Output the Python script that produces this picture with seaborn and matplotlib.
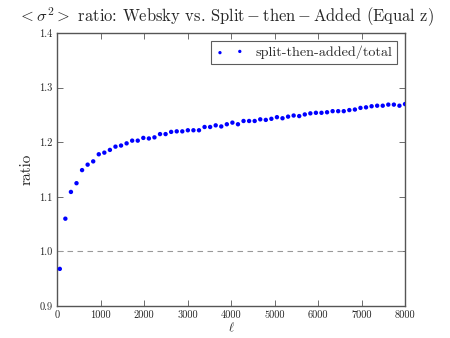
import matplotlib
matplotlib.use("Agg")
import matplotlib.pyplot as plt
import seaborn as sns
import pandas as pd

ell = [64, 192, 320, 448, 576, 704, 832, 960, 1088, 1216, 1344, 1472, 1600,
       1728, 1856, 1984, 2112, 2240, 2368, 2496, 2624, 2752, 2880, 3008, 3136,
       3264, 3392, 3520, 3648, 3776, 3904, 4032, 4160, 4288, 4416, 4544, 4672,
       4800, 4928, 5056, 5184, 5312, 5440, 5568, 5696, 5824, 5952, 6080, 6208,
       6336, 6464, 6592, 6720, 6848, 6976, 7104, 7232, 7360, 7488, 7616, 7744,
       7872, 8000]
ratio = [0.968, 1.060, 1.109, 1.125, 1.149, 1.159, 1.165, 1.178, 1.181, 1.186,
         1.192, 1.194, 1.198, 1.203, 1.203, 1.208, 1.207, 1.209, 1.215, 1.215,
         1.219, 1.220, 1.220, 1.222, 1.222, 1.222, 1.228, 1.228, 1.231, 1.229,
         1.233, 1.236, 1.233, 1.239, 1.239, 1.239, 1.242, 1.241, 1.243, 1.246,
         1.244, 1.247, 1.249, 1.248, 1.251, 1.253, 1.254, 1.254, 1.255, 1.257,
         1.257, 1.257, 1.259, 1.260, 1.263, 1.264, 1.266, 1.267, 1.267, 1.269,
         1.269, 1.267, 1.270]
xticks = [0, 1000, 2000, 3000, 4000, 5000, 6000, 7000, 8000]
yticks = [0.9, 1.0, 1.1, 1.2, 1.3, 1.4]
series_label = "split-then-added/total"

sns.set_style("ticks")
plt.rcParams["font.family"] = ["cmr10", "DejaVu Serif"]
plt.rcParams["mathtext.fontset"] = "cm"
plt.rcParams["axes.formatter.use_mathtext"] = True

df = pd.DataFrame({"ell": ell, "ratio": ratio})

fig = plt.figure(figsize=(4.5, 3.38), dpi=100)
ax = fig.add_axes([0.1267, 0.0947, 0.9 - 0.1267, 0.902 - 0.0947])

ax.axhline(1.0, ls=(0, (5, 4)), color="#999999", lw=0.8, zorder=1)
sns.scatterplot(data=df, x="ell", y="ratio", ax=ax, color="blue",
                edgecolor="none", s=10, label=series_label, zorder=3,
                clip_on=True)

ax.set_xlim(0, 8000)
ax.set_ylim(0.9, 1.4)
ax.set_xticks(xticks)
ax.set_yticks(yticks)
ax.set_xticklabels([str(t) for t in xticks])
ax.set_yticklabels([f"{t:.1f}" for t in yticks])
ax.tick_params(direction="in", top=True, right=True, labelsize=7.5,
               length=4, width=0.6, color="#555555", pad=3)
for sp in ax.spines.values():
    sp.set_linewidth(1.0)
    sp.set_color("#555555")

ax.set_xlabel(r"$\ell$", fontsize=9, labelpad=1)
ax.set_ylabel("ratio", fontsize=11, labelpad=4)
fig.text(0.503, 0.935,
         r"$<\sigma^2>$ ratio: Websky vs. $\rm Split-then-Added$ (Equal z)",
         fontsize=11.9, ha="center", va="baseline")

leg = ax.legend(loc="upper right", scatterpoints=2, fontsize=10.2,
                frameon=True, fancybox=False, borderaxespad=0.55,
                handlelength=2.0, handletextpad=0.8, borderpad=0.35,
                markerscale=0.75)
leg.get_frame().set_edgecolor("#333333")
leg.get_frame().set_linewidth(0.8)

fig.savefig("out.png", dpi=100)
